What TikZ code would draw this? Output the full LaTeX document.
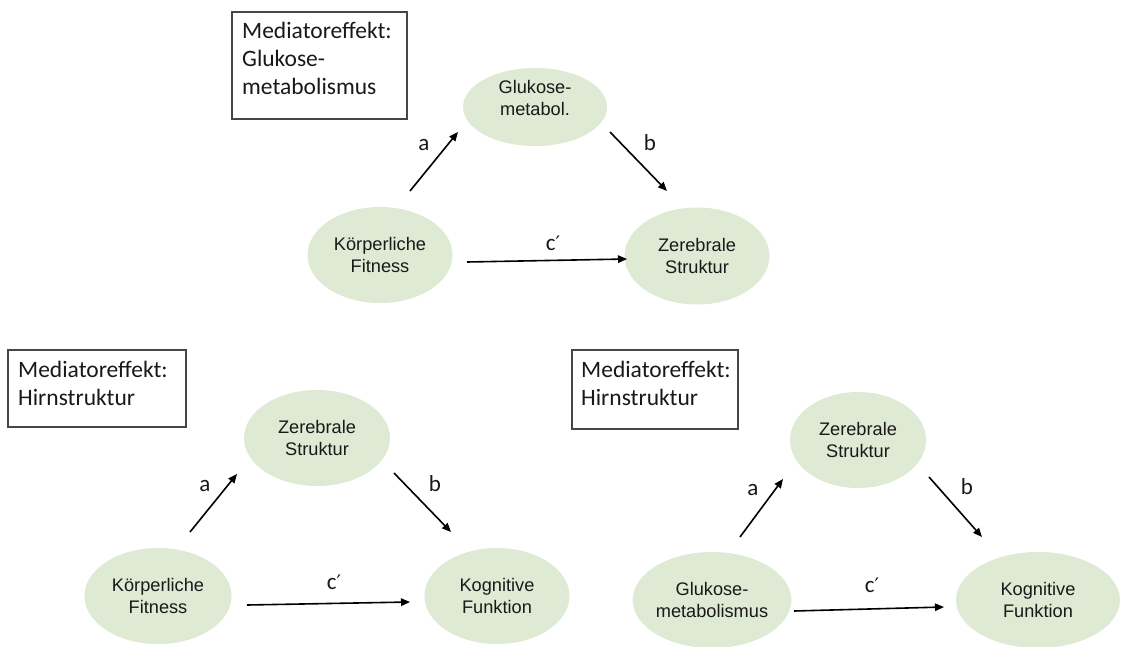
\documentclass[tikz,border=0pt]{standalone}
\usepackage{fontspec}
\setmainfont{Carlito}
\newfontfamily\ellfont{Liberation Sans}
\newfontfamily\primefont{DejaVu Sans}
\usetikzlibrary{arrows.meta,shapes.geometric}
\definecolor{ellfill}{RGB}{222,234,212}
\definecolor{txt}{RGB}{25,25,25}
\definecolor{boxline}{RGB}{70,70,70}
\newcommand{\cprime}{c{\primefont\fontsize{20}{20}\selectfont ′}}
\tikzset{
  elltext/.style={inner sep=0pt, align=center, text=txt,
    font=\ellfont\fontsize{18.2}{22}\selectfont},
  ell/.style={ellipse, fill=ellfill, draw=none, elltext},
  medbox/.style={draw=boxline, line width=1.2pt, rectangle, inner sep=0pt},
  medtext/.style={anchor=north west, inner sep=0pt, align=left, text=txt,
    font=\fontsize{23.5}{28}\selectfont},
  arr/.style={line width=1.6pt, -{Triangle[length=9pt,width=7.5pt]}},
  lab/.style={text=txt, font=\fontsize{23}{26}\selectfont, inner sep=0pt}
}
\begin{document}
\begin{tikzpicture}[x=1pt,y=-1pt]
\useasboundingbox (0,0) rectangle (1125,646);
\fill[white] (0,0) rectangle (1125,646);

% ---------- top diagram ----------
\node[medbox, minimum width=175pt, minimum height=107pt] (box1) at (319.5,65.5) {};
\node[medtext] (box1t) at (242,22) {Mediatoreffekt:\\Glukose-\\metabolismus};
\node[ell, minimum width=144pt, minimum height=78pt] (gm1) at (535,107) {};
\node[elltext] (gm1t) at (535,97.5) {Glukose-\\metabol.};
\node[ell, minimum width=145pt, minimum height=96pt] (kf1) at (380,255) {Körperliche\\Fitness};
\node[ell, minimum width=145pt, minimum height=97pt] (zs1) at (697,256) {Zerebrale\\Struktur};
\coordinate (a1s) at (410,191); \coordinate (a1e) at (458,132);
\coordinate (b1s) at (610,132); \coordinate (b1e) at (667,191);
\coordinate (c1s) at (467,262); \coordinate (c1e) at (627,259);
\draw[arr] (a1s) -- (a1e);
\draw[arr] (b1s) -- (b1e);
\draw[arr] (c1s) -- (c1e);
\node[lab] (la1) at (424,145) {a};
\node[lab] (lb1) at (650,143) {b};
\node[lab] (lc1) at (553,243) {\cprime};

% ---------- bottom-left diagram ----------
\node[medbox, minimum width=178pt, minimum height=77pt] (box2) at (97,388.5) {};
\node[medtext] (box2t) at (18,361) {Mediatoreffekt:\\Hirnstruktur};
\node[ell, minimum width=146pt, minimum height=96pt] (zs2) at (317,438) {Zerebrale\\Struktur};
\node[ell, minimum width=147pt, minimum height=96pt] (kf2) at (158,596) {Körperliche\\Fitness};
\node[ell, minimum width=145pt, minimum height=96pt] (kg2) at (497,596) {Kognitive\\Funktion};
\coordinate (a2s) at (190,532); \coordinate (a2e) at (237,474);
\coordinate (b2s) at (394,473); \coordinate (b2e) at (451,532);
\coordinate (c2s) at (247,605); \coordinate (c2e) at (410,602);
\draw[arr] (a2s) -- (a2e);
\draw[arr] (b2s) -- (b2e);
\draw[arr] (c2s) -- (c2e);
\node[lab] (la2) at (205,486) {a};
\node[lab] (lb2) at (435,484) {b};
\node[lab] (lc2) at (334,582) {\cprime};

% ---------- bottom-right diagram ----------
\node[medbox, minimum width=166pt, minimum height=79pt] (box3) at (655,389.5) {};
\node[medtext] (box3t) at (581,361) {Mediatoreffekt:\\Hirnstruktur};
\node[ell, minimum width=136pt, minimum height=96pt] (zs3) at (858,440) {Zerebrale\\Struktur};
\node[ell, minimum width=136pt, minimum height=96pt] (gm3) at (712,600) {Glukose-\\metabolismus};
\node[ell, minimum width=164pt, minimum height=96pt] (kg3) at (1038,600) {Kognitive\\Funktion};
\coordinate (a3s) at (740,537); \coordinate (a3e) at (783,479);
\coordinate (b3s) at (929,477); \coordinate (b3e) at (982,537);
\coordinate (c3s) at (794,611); \coordinate (c3e) at (944,607);
\draw[arr] (a3s) -- (a3e);
\draw[arr] (b3s) -- (b3e);
\draw[arr] (c3s) -- (c3e);
\node[lab] (la3) at (753,490) {a};
\node[lab] (lb3) at (967,487) {b};
\node[lab] (lc3) at (872,585) {\cprime};
\end{tikzpicture}
\end{document}
